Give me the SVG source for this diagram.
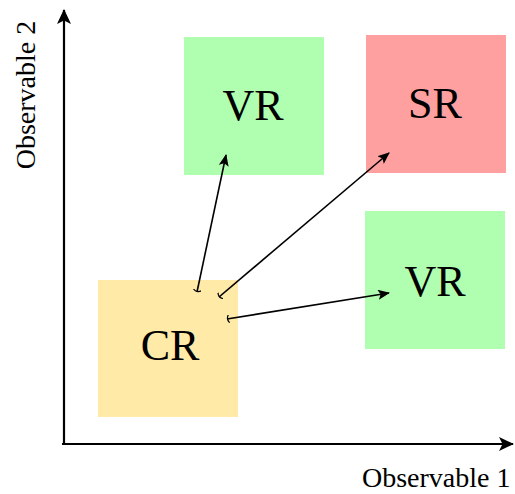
<svg xmlns="http://www.w3.org/2000/svg" width="515" height="494" viewBox="0 0 515 494">
<style>
.lbl{font-family:"Liberation Serif","DejaVu Serif",serif;fill:#000}
.big{font-size:44px;text-anchor:middle}
.ax{font-size:28px}
.cn{stroke:#000;stroke-width:1.6;fill:none}
</style>
<defs>
<marker id="ah" markerWidth="13" markerHeight="10" refX="11" refY="5" orient="auto" markerUnits="userSpaceOnUse">
<path d="M0,0 L12,5 L0,10 L2.5,5 Z" fill="#000"/>
</marker>
<marker id="ahb" markerWidth="16" markerHeight="14" refX="14" refY="7" orient="auto" markerUnits="userSpaceOnUse">
<path d="M0,0 L15,7 L0,14 L3.5,7 Z" fill="#000"/>
</marker>
<marker id="tl" markerWidth="6" markerHeight="8" refX="1" refY="4" orient="auto" markerUnits="userSpaceOnUse">
<path d="M3,0 Q0,4 3,8" stroke="#000" stroke-width="1.2" fill="none"/>
</marker>
</defs>
<g id="axes">
<line x1="64" y1="445" x2="64" y2="10" stroke="#000" stroke-width="2.2" marker-end="url(#ahb)"/>
<line x1="62" y1="444" x2="513" y2="444" stroke="#000" stroke-width="2.2" marker-end="url(#ahb)"/>
<text class="lbl ax" x="362" y="487">Observable 1</text>
<text class="lbl ax" x="0" y="0" text-anchor="middle" transform="translate(35,95) rotate(-90)">Observable 2</text>
</g>
<g id="cr">
<rect x="98" y="280" width="140" height="137" fill="#FFEAA8"/>
<text class="lbl big" x="170" y="360">CR</text>
</g>
<g id="vr1">
<rect x="184" y="37" width="140" height="138" fill="#B0FFB0"/>
<text class="lbl big" x="253" y="120">VR</text>
</g>
<g id="sr">
<rect x="366" y="35" width="140" height="138" fill="#FFA0A0"/>
<text class="lbl big" x="435" y="118">SR</text>
</g>
<g id="vr2">
<rect x="365" y="211" width="140" height="138" fill="#B0FFB0"/>
<text class="lbl big" x="435" y="296">VR</text>
</g>
<g id="connectors">
<line class="cn" x1="197" y1="292" x2="226" y2="155" marker-start="url(#tl)" marker-end="url(#ah)"/>
<line class="cn" x1="219" y1="297" x2="389" y2="153" marker-start="url(#tl)" marker-end="url(#ah)"/>
<line class="cn" x1="227" y1="319" x2="389" y2="293" marker-start="url(#tl)" marker-end="url(#ah)"/>
</g>
</svg>
